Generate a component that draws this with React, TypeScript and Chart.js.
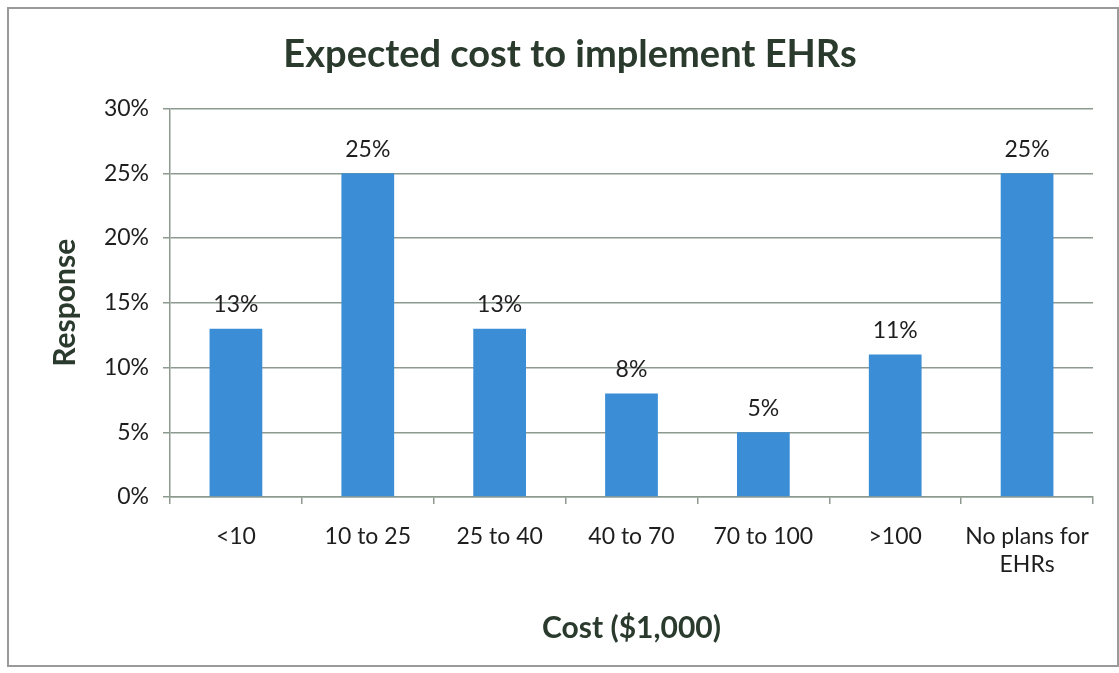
import React, { useEffect, useRef } from "react";
import { Chart, registerables } from "chart.js";

Chart.register(...registerables);

const categories: (string | string[])[] = ["<10", "10 to 25", "25 to 40", "40 to 70", "70 to 100", ">100", ["No plans for", "EHRs"]];
const responses = [13, 25, 13, 8, 5, 11, 25];
const yTicks = [0, 5, 10, 15, 20, 25, 30];

const FONT = "Lato, 'Open Sans', sans-serif";
const GRID = "#8d9a8f";
const TEXT = "#1e1e1e";
const GREEN = "#2a3a2d";

const dataLabels = {
  id: "dataLabels",
  afterDatasetsDraw(chart: any) {
    const ctx = chart.ctx;
    const meta = chart.getDatasetMeta(0);
    ctx.save();
    ctx.font = `23px ${FONT}`;
    ctx.fillStyle = TEXT;
    ctx.textAlign = "center";
    ctx.textBaseline = "middle";
    meta.data.forEach((bar: any, i: number) => {
      ctx.fillText(`${chart.data.datasets[0].data[i]}%`, bar.x, bar.y - 24);
    });
    ctx.restore();
  },
};

export default function App() {
  const ref = useRef<HTMLCanvasElement>(null);
  useEffect(() => {
    document.body.style.margin = "0";
    const chart = new Chart(ref.current!, {
      type: "bar",
      data: {
        labels: categories,
        datasets: [
          {
            data: responses,
            backgroundColor: "#3b8ed6",
            categoryPercentage: 1,
            barPercentage: 0.4,
          },
        ],
      },
      plugins: [dataLabels],
      options: {
        animation: false,
        responsive: false,
        layout: { padding: { left: 47, right: 26, top: 20, bottom: 27 } },
        plugins: {
          legend: { display: false },
          tooltip: { enabled: false },
          title: {
            display: true,
            text: "Expected cost to implement EHRs",
            color: GREEN,
            font: { family: FONT, size: 38, weight: "bold" },
            padding: { top: 12, bottom: 31 },
          },
        },
        scales: {
          x: {
            afterFit: (s: any) => {
              s.height = 149;
            },
            grid: { drawOnChartArea: false, drawTicks: true, tickLength: 7, color: GRID, lineWidth: 1.5 },
            border: { color: GRID, width: 1.5 },
            ticks: { color: TEXT, font: { family: FONT, size: 23 }, padding: 19, maxRotation: 0 },
            title: {
              display: true,
              text: "Cost ($1,000)",
              color: GREEN,
              font: { family: FONT, size: 30, weight: "bold" },
              padding: { top: 0, bottom: 0 },
            },
          },
          y: {
            min: 0,
            max: 30,
            afterFit: (s: any) => {
              s.width = 123;
            },
            afterBuildTicks: (s: any) => {
              s.ticks = yTicks.map((v) => ({ value: v }));
            },
            grid: { color: GRID, lineWidth: 1.5, tickLength: 7 },
            border: { color: GRID, width: 1.5 },
            ticks: {
              color: TEXT,
              font: { family: FONT, size: 23 },
              padding: 14,
              callback: (v: any) => `${v}%`,
            },
            title: {
              display: true,
              text: "Response",
              color: GREEN,
              font: { family: FONT, size: 30, weight: "bold" },
              padding: { top: 0, bottom: 0 },
            },
          },
        },
      },
    });
    return () => chart.destroy();
  }, []);
  return (
    <div style={{ position: "relative", width: 1119, height: 673, background: "#fff" }}>
      <canvas ref={ref} width={1119} height={673} style={{ display: "block" }} />
      <div
        style={{
          position: "absolute",
          left: 7,
          top: 7,
          width: 1108,
          height: 656,
          border: "2px solid #9a9a9a",
          pointerEvents: "none",
        }}
      />
    </div>
  );
}
